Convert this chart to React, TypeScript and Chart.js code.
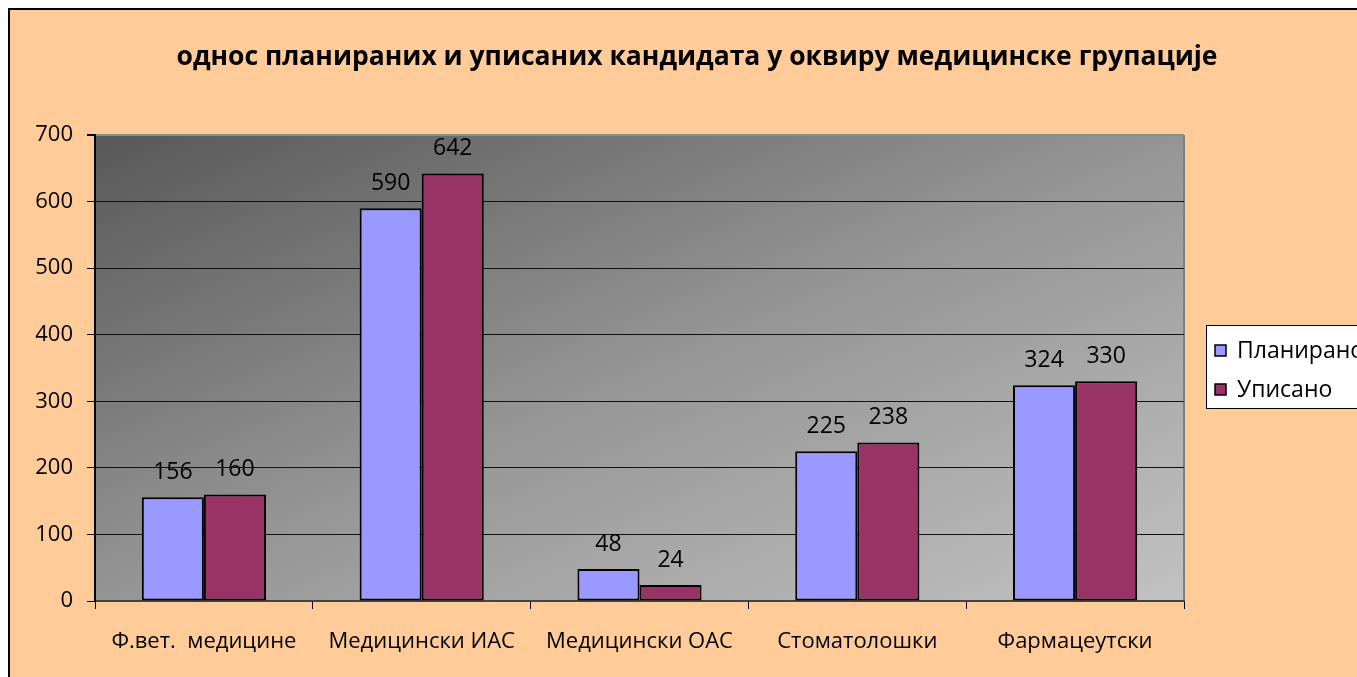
import React, { useEffect, useRef } from "react";
import { Chart, registerables } from "chart.js";

Chart.register(...registerables);

const TITLE = "однос планираних и уписаних кандидата у оквиру медицинске групације";
const categories = ["Ф.вет.  медицине", "Медицински ИАС", "Медицински ОАС", "Стоматолошки", "Фармацеутски"];
const planned = [156, 590, 48, 225, 324];
const enrolled = [160, 642, 24, 238, 330];
const seriesNames = ["Планирано", "Уписано"];
const yTicks = [0, 100, 200, 300, 400, 500, 600, 700];

const FONT = "'Open Sans', 'Noto Sans', sans-serif";
const CW = 1420;
const CH = 700;
const AREA = { left: 87, top: 127, right: 1176, bottom: 593 };

export default function App() {
  const ref = useRef<HTMLCanvasElement | null>(null);

  useEffect(() => {
    const canvas = ref.current!;
    const bgPlugin = {
      id: "bg",
      beforeDraw(chart: any) {
        const { ctx, chartArea: a } = chart;
        ctx.save();
        ctx.fillStyle = "#FFCC99";
        ctx.fillRect(0, 0, CW, CH);
        ctx.strokeStyle = "#000";
        ctx.lineWidth = 2;
        ctx.strokeRect(1, 1, CW, CH);
        const w = a.right - a.left;
        const h = a.bottom - a.top;
        const k = (2 * w * h) / (w * w + h * h);
        const g = ctx.createLinearGradient(a.left, a.top, a.left + h * k, a.top + w * k);
        g.addColorStop(0, "#585858");
        g.addColorStop(0.5, "#959595");
        g.addColorStop(1, "#c2c2c2");
        ctx.fillStyle = g;
        ctx.fillRect(a.left, a.top, w, h);
        ctx.strokeStyle = "#7f7f7f";
        ctx.lineWidth = 2;
        ctx.beginPath();
        ctx.moveTo(a.right, a.top);
        ctx.lineTo(a.right, a.bottom);
        ctx.stroke();
        ctx.fillStyle = "#000";
        ctx.font = `bold 26.5px ${FONT}`;
        ctx.textAlign = "center";
        ctx.textBaseline = "middle";
        ctx.fillText(TITLE, 689, 49);
        ctx.restore();
      },
    };
    const labelPlugin = {
      id: "labels",
      afterDatasetsDraw(chart: any) {
        const { ctx } = chart;
        ctx.save();
        ctx.fillStyle = "#000";
        ctx.font = `23px ${FONT}`;
        ctx.textAlign = "center";
        ctx.textBaseline = "middle";
        chart.data.datasets.forEach((ds: any, i: number) => {
          const meta = chart.getDatasetMeta(i);
          meta.data.forEach((el: any, j: number) => {
            ctx.fillText(String(ds.data[j]), el.x, el.y - 25);
          });
        });
        ctx.restore();
      },
      afterDraw(chart: any) {
        const { ctx } = chart;
        ctx.save();
        const bx = 1198, by = 317, bw = 200, bh = 83;
        ctx.fillStyle = "#fff";
        ctx.fillRect(bx, by, bw, bh);
        ctx.strokeStyle = "#000";
        ctx.lineWidth = 1;
        ctx.strokeRect(bx + 0.5, by + 0.5, bw, bh);
        ctx.font = `23px ${FONT}`;
        ctx.textAlign = "left";
        ctx.textBaseline = "middle";
        chart.data.datasets.forEach((ds: any, i: number) => {
          const cy = by + 26 + i * 39;
          ctx.fillStyle = ds.backgroundColor;
          ctx.fillRect(bx + 9, cy - 6, 11, 11);
          ctx.strokeStyle = "#000";
          ctx.lineWidth = 1.5;
          ctx.strokeRect(bx + 9, cy - 6, 11, 11);
          ctx.fillStyle = "#000";
          ctx.fillText(ds.label, bx + 31, cy);
        });
        ctx.restore();
      },
    };

    const chart = new Chart(canvas, {
      type: "bar",
      data: {
        labels: categories,
        datasets: [
          {
            label: seriesNames[0],
            data: planned,
            backgroundColor: "#9999FF",
            borderColor: "#000",
            borderWidth: 2,
            borderSkipped: false,
          },
          {
            label: seriesNames[1],
            data: enrolled,
            backgroundColor: "#993366",
            borderColor: "#000",
            borderWidth: 2,
            borderSkipped: false,
          },
        ],
      },
      options: {
        responsive: false,
        animation: false,
        devicePixelRatio: 1,
        layout: { padding: { left: 0, top: AREA.top, right: CW - AREA.right, bottom: 0 } },
        datasets: { bar: { categoryPercentage: 0.57, barPercentage: 1 } },
        plugins: { legend: { display: false }, title: { display: false }, tooltip: { enabled: false } },
        scales: {
          x: {
            afterFit(s: any) {
              s.height = CH - AREA.bottom;
            },
            grid: {
              offset: true,
              drawOnChartArea: false,
              drawTicks: true,
              tickLength: 8,
              tickColor: "#000",
              tickWidth: 1,
            },
            border: { color: "#444", width: 2 },
            ticks: { color: "#000", font: { family: FONT, size: 22 }, padding: 20, maxRotation: 0, autoSkip: false },
          },
          y: {
            min: 0,
            max: 700,
            afterFit(s: any) {
              s.width = AREA.left;
            },
            afterBuildTicks(s: any) {
              s.ticks = yTicks.map((v) => ({ value: v }));
            },
            grid: {
              color: (c: any) => (c.tick && c.tick.value === 700 ? "#8a8a8a" : "#111"),
              lineWidth: (c: any) => (c.tick && c.tick.value === 700 ? 2 : 1),
              tickColor: "#000",
              tickLength: 8,
              drawTicks: true,
            },
            border: { color: "#000", width: 2 },
            ticks: { color: "#000", font: { family: FONT, size: 22 }, padding: 14, stepSize: 100 },
          },
        },
      },
      plugins: [bgPlugin, labelPlugin],
    } as any);
    return () => chart.destroy();
  }, []);

  return (
    <div style={{ position: "fixed", left: 8, top: 8, right: 0, bottom: 0, overflow: "hidden" }}>
      <canvas ref={ref} width={CW} height={CH} style={{ display: "block", width: CW, height: CH }} />
    </div>
  );
}
